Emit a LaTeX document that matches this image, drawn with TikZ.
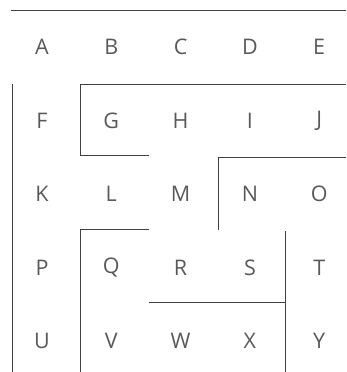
\documentclass[tikz,border=0pt]{standalone}
\usepackage{fontspec}
\setmainfont{Open Sans}
\begin{document}
\begin{tikzpicture}[x=1pt,y=-1pt,
  cell/.style={font=\fontsize{21.5}{21.5}\selectfont, text=black!65, inner sep=0pt},
  wall/.style={draw=black!75, line width=1pt}]
\useasboundingbox (0,0) rectangle (346,372);
\foreach \t [count=\i from 0] in {A,B,C,D,E,F,G,H,I,J,K,L,M,N,O,P,Q,R,S,T,U,V,W,X,Y}{
  \pgfmathtruncatemacro{\c}{mod(\i,5)}
  \pgfmathtruncatemacro{\r}{int(\i/5)}
  \node[cell] (\t) at ({42+69.3*\c},{47+73.5*\r}) {\t};
}
\draw[wall] (11,10) -- (346,10);
\draw[wall] (12,84) -- (12,372);
\draw[wall] (149,155) -- (80,155) -- (80,84) -- (346,84);
\draw[wall] (218,230) -- (218,157) -- (346,157);
\draw[wall] (149,229) -- (80,229) -- (80,372);
\draw[wall] (149,302) -- (285,302);
\draw[wall] (285,231) -- (285,372);
\end{tikzpicture}
\end{document}
